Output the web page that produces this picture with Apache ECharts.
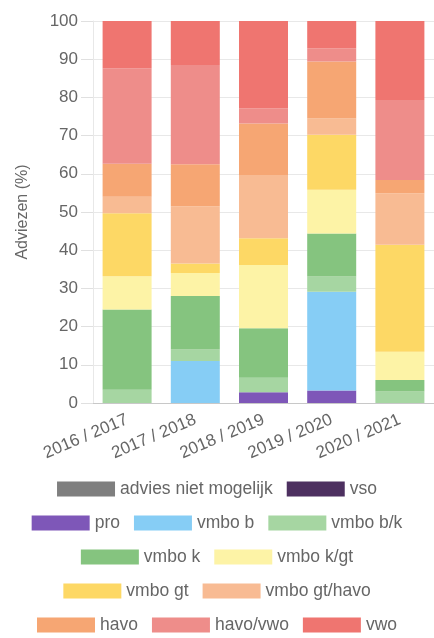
<!DOCTYPE html>
<html>
<head>
<meta charset="utf-8">
<script src="https://cdn.jsdelivr.net/npm/echarts@6/dist/echarts.min.js"></script>
<style>
html,body{margin:0;padding:0;background:#fff;}
#chart{width:434px;height:638px;}
</style>
</head>
<body>
<div id="chart"></div>
<script>
const categories = ['2016 / 2017', '2017 / 2018', '2018 / 2019', '2019 / 2020', '2020 / 2021'];
const yTicks = [0, 10, 20, 30, 40, 50, 60, 70, 80, 90, 100];
const adviesNietMogelijk = [0, 0, 0, 0, 0];
const vso = [0, 0, 0, 0, 0];
const pro = [0, 0, 2.8, 3.3, 0];
const vmboB = [0, 11, 0, 25.8, 0];
const vmboBK = [3.5, 3, 3.8, 4, 3];
const vmboK = [21, 14, 13, 11.3, 3];
const vmboKGt = [8.7, 6, 16.5, 11.4, 7.4];
const vmboGt = [16.5, 2.5, 7, 14.4, 28];
const vmboGtHavo = [4.3, 15, 16.6, 4.3, 13.5];
const havo = [8.6, 11, 13.5, 14.9, 3.5];
const havoVwo = [25, 26, 3.9, 3.4, 20.9];
const vwo = [12.4, 11.5, 22.9, 7.2, 20.7];

const seriesNames = ['advies niet mogelijk', 'vso', 'pro', 'vmbo b', 'vmbo b/k', 'vmbo k', 'vmbo k/gt', 'vmbo gt', 'vmbo gt/havo', 'havo', 'havo/vwo', 'vwo'];
const seriesData = [adviesNietMogelijk, vso, pro, vmboB, vmboBK, vmboK, vmboKGt, vmboGt, vmboGtHavo, havo, havoVwo, vwo];
const colors = ['#7f7f7f', '#4d3060', '#7e57b8', '#86cdf5', '#a6d6a2', '#85c47f', '#fdf3a6', '#fdd865', '#f8bb93', '#f6a673', '#ee8d8a', '#ef7570'];
const legendRows = [
  ['advies niet mogelijk', 'vso'],
  ['pro', 'vmbo b', 'vmbo b/k'],
  ['vmbo k', 'vmbo k/gt'],
  ['vmbo gt', 'vmbo gt/havo'],
  ['havo', 'havo/vwo', 'vwo']
];
const legendTops = [480, 514, 548, 582, 616];

const FONT = 'Liberation Sans, Arial, sans-serif';
const chart = echarts.init(document.getElementById('chart'), null, {renderer: 'canvas'});
chart.setOption({
  animation: false,
  color: colors,
  grid: {left: 93, right: -3, top: 21, bottom: 235, containLabel: false},
  legend: legendRows.map((row, i) => ({
    data: row,
    top: legendTops[i],
    left: 'center',
    icon: 'rect',
    itemWidth: 58,
    itemHeight: 15,
    itemGap: 14,
    padding: 0,
    textStyle: {color: '#666', fontSize: 17.5, fontFamily: FONT}
  })),
  xAxis: {
    type: 'category',
    data: categories,
    axisLine: {show: true, lineStyle: {color: '#c8c8c8'}},
    axisTick: {show: false},
    axisLabel: {rotate: 23, color: '#666', fontSize: 17, fontFamily: FONT, margin: 16, interval: 0},
    splitLine: {show: false}
  },
  yAxis: {
    type: 'value',
    min: 0,
    max: 100,
    interval: 10,
    name: 'Adviezen (%)',
    nameLocation: 'middle',
    nameGap: 62,
    nameTextStyle: {color: '#666', fontSize: 16, fontFamily: FONT},
    axisLine: {show: true, lineStyle: {color: '#e8e8e8'}},
    axisTick: {show: true, length: 12, lineStyle: {color: '#e0e0e0'}},
    axisLabel: {color: '#666', fontSize: 17, fontFamily: FONT, margin: 15,
      formatter: v => yTicks.includes(v) ? String(v) : ''},
    splitLine: {show: true, lineStyle: {color: '#e8e8e8'}}
  },
  series: seriesNames.map((name, i) => ({
    name: name,
    type: 'bar',
    stack: 'total',
    barWidth: 49,
    data: seriesData[i],
    itemStyle: {color: colors[i]}
  }))
});
</script>
</body>
</html>
